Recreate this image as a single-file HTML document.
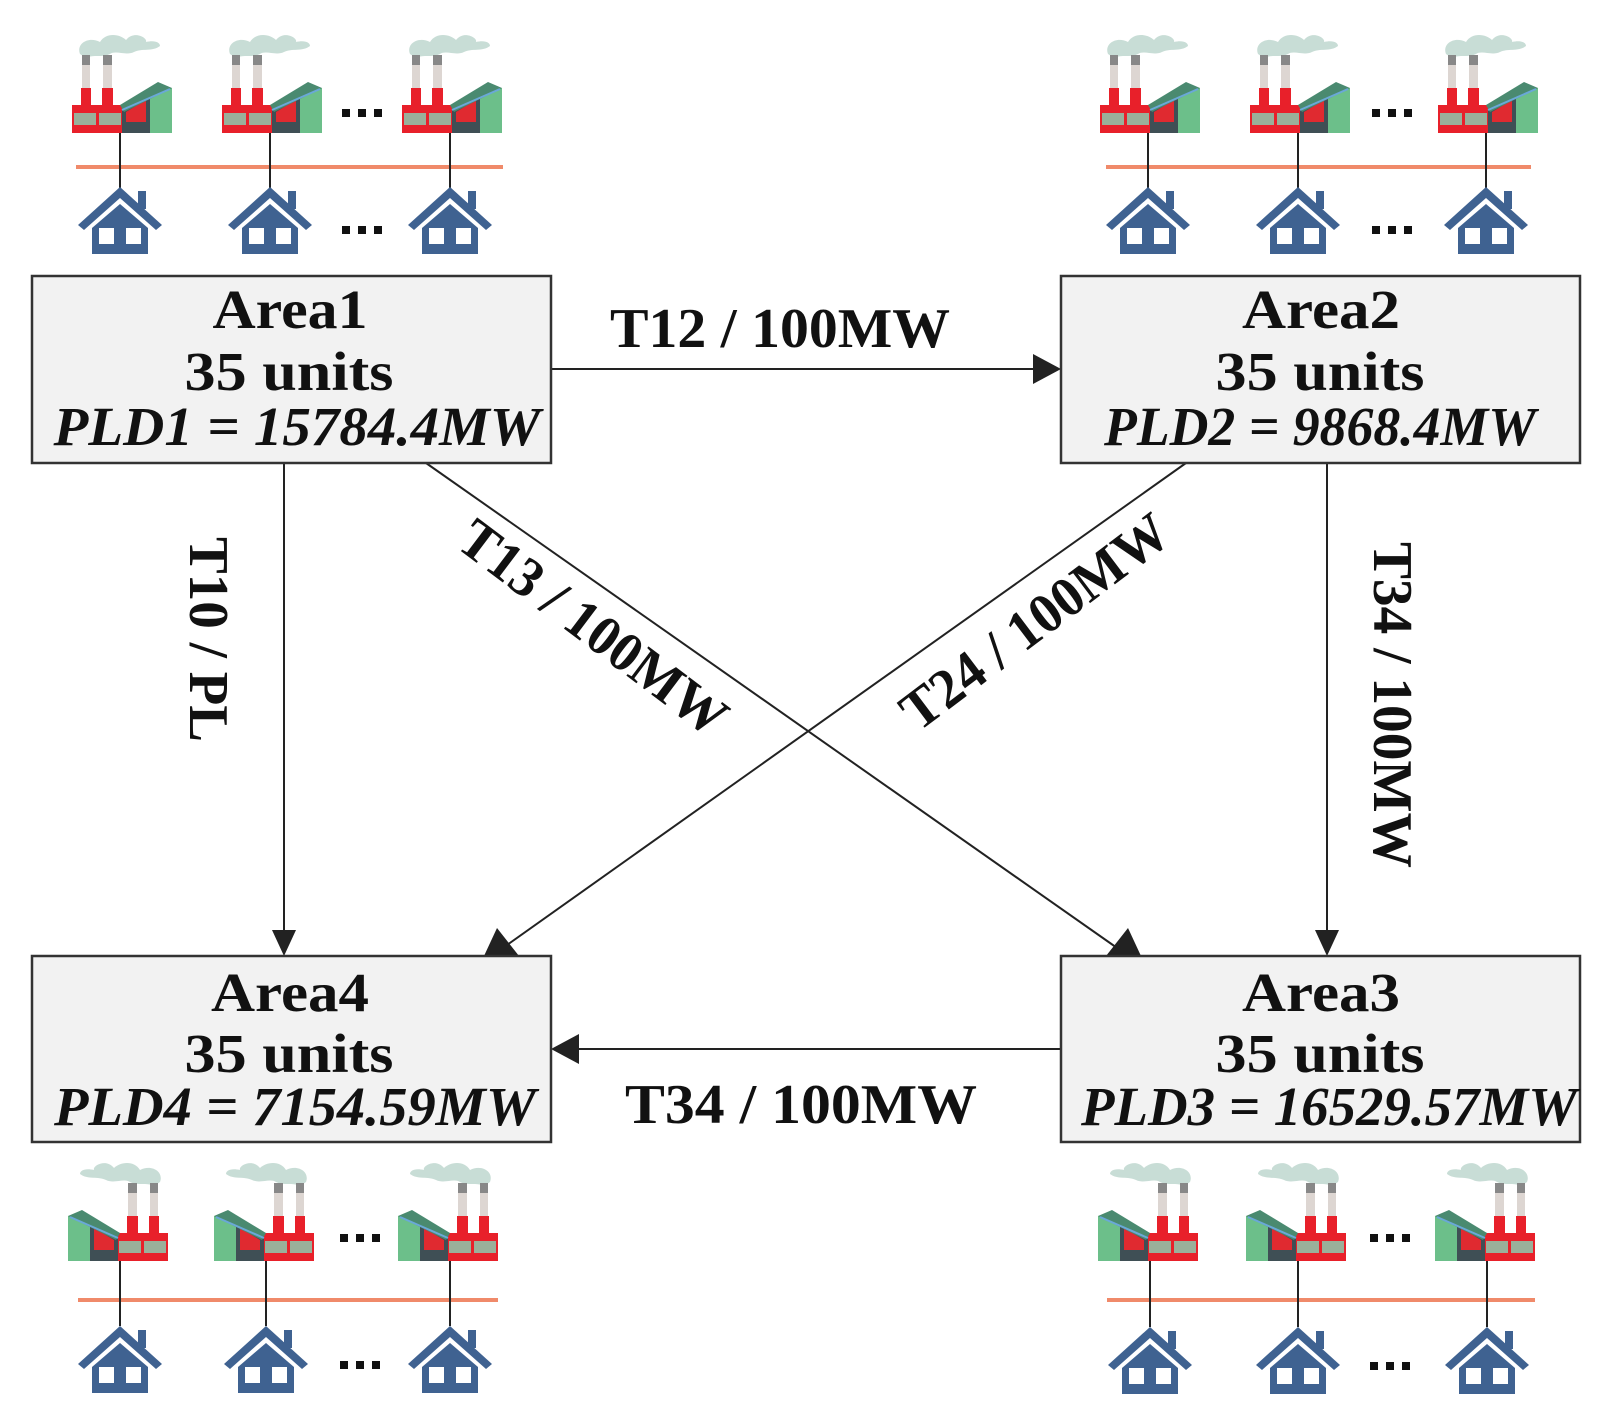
<!DOCTYPE html>
<html><head><meta charset="utf-8"><style>
html,body{margin:0;padding:0;background:#fff}
svg{display:block}
text{font-family:"Liberation Serif",serif;font-weight:bold;fill:#111}
</style></head><body>
<svg width="1601" height="1413" viewBox="0 0 1601 1413" xmlns="http://www.w3.org/2000/svg">
<defs>
<g id="fac">
  <path d="M8 24 C4 14 16 6 28 12 C34 2 48 4 54 10 C62 0 76 8 74 12 C82 10 88 12 88 16 C80 22 70 18 62 22 C54 26 44 20 38 24 C30 28 22 24 14 28 Z" fill="#c8ddd6"/>
  <rect x="10" y="25" width="8" height="10" fill="#888"/>
  <rect x="31" y="25" width="9" height="10" fill="#888"/>
  <rect x="10" y="35" width="8" height="23" fill="#ddd6d2"/>
  <rect x="31" y="35" width="9" height="23" fill="#ddd6d2"/>
  <rect x="9" y="58" width="10" height="18" fill="#e8202a"/>
  <rect x="30" y="58" width="11" height="18" fill="#e8202a"/>
  <rect x="0" y="75" width="52" height="28" fill="#e8202a"/>
  <rect x="2" y="83" width="22" height="12" fill="#9ab09a"/>
  <rect x="27" y="83" width="22" height="12" fill="#9ab09a"/>
  <polygon points="50,78 78,62 78,103 50,103" fill="#3f4f55"/>
  <polygon points="54,82 74,70 74,92 54,92" fill="#e02a30"/>
  <rect x="78" y="58" width="22" height="45" fill="#6cbf8a"/>
  <polygon points="48,75 86,52 100,58 52,82" fill="#4a8a70"/>
  <line x1="50" y1="80" x2="98" y2="59" stroke="#6aa8d8" stroke-width="2"/>
</g>
<g id="house">
  <polygon points="0,0 42,38 36,43 0,11 -36,43 -42,38" fill="#3f6291"/>
  <rect x="18" y="4" width="8" height="18" fill="#3f6291"/>
  <polygon points="0,17 28,41 28,67 -28,67 -28,41" fill="#3f6291"/>
  <rect x="-21" y="41" width="15" height="16" fill="#fff"/>
  <rect x="6" y="41" width="15" height="16" fill="#fff"/>
</g>
<g id="dots"><rect x="0" y="-4" width="8" height="8" fill="#111"/><rect x="16" y="-4" width="8" height="8" fill="#111"/><rect x="32" y="-4" width="8" height="8" fill="#111"/></g>
</defs>

<line x1="76" y1="167" x2="503" y2="167" stroke="#f08a6a" stroke-width="4"/>
<g stroke="#222" stroke-width="2"><line x1="120" y1="125" x2="120" y2="188"/><line x1="270" y1="125" x2="270" y2="188"/><line x1="450" y1="125" x2="450" y2="188"/></g>
<use href="#fac" x="72" y="30"/><use href="#fac" x="222" y="30"/><use href="#fac" x="402" y="30"/>
<use href="#house" x="120" y="187"/><use href="#house" x="270" y="187"/><use href="#house" x="450" y="187"/>
<use href="#dots" x="342" y="113"/><use href="#dots" x="342" y="230"/>

<line x1="1106" y1="167" x2="1531" y2="167" stroke="#f08a6a" stroke-width="4"/>
<g stroke="#222" stroke-width="2"><line x1="1148" y1="125" x2="1148" y2="188"/><line x1="1298" y1="125" x2="1298" y2="188"/><line x1="1486" y1="125" x2="1486" y2="188"/></g>
<use href="#fac" x="1100" y="30"/><use href="#fac" x="1250" y="30"/><use href="#fac" x="1438" y="30"/>
<use href="#house" x="1148" y="187"/><use href="#house" x="1298" y="187"/><use href="#house" x="1486" y="187"/>
<use href="#dots" x="1372" y="113"/><use href="#dots" x="1372" y="230"/>

<line x1="78" y1="1300" x2="498" y2="1300" stroke="#f08a6a" stroke-width="4"/>
<g stroke="#222" stroke-width="2"><line x1="120" y1="1250" x2="120" y2="1326"/><line x1="266" y1="1250" x2="266" y2="1326"/><line x1="450" y1="1250" x2="450" y2="1326"/></g>
<use href="#fac" transform="translate(168,1158) scale(-1,1)"/><use href="#fac" transform="translate(314,1158) scale(-1,1)"/><use href="#fac" transform="translate(498,1158) scale(-1,1)"/>
<use href="#house" x="120" y="1326"/><use href="#house" x="266" y="1326"/><use href="#house" x="450" y="1326"/>
<use href="#dots" x="340" y="1238"/><use href="#dots" x="340" y="1365"/>

<line x1="1107" y1="1300" x2="1535" y2="1300" stroke="#f08a6a" stroke-width="4"/>
<g stroke="#222" stroke-width="2"><line x1="1150" y1="1250" x2="1150" y2="1327"/><line x1="1298" y1="1250" x2="1298" y2="1327"/><line x1="1487" y1="1250" x2="1487" y2="1327"/></g>
<use href="#fac" transform="translate(1198,1158) scale(-1,1)"/><use href="#fac" transform="translate(1346,1158) scale(-1,1)"/><use href="#fac" transform="translate(1535,1158) scale(-1,1)"/>
<use href="#house" x="1150" y="1327"/><use href="#house" x="1298" y="1327"/><use href="#house" x="1487" y="1327"/>
<use href="#dots" x="1370" y="1238"/><use href="#dots" x="1370" y="1366"/>

<g stroke="#222" stroke-width="2" fill="none">
  <line x1="551" y1="369" x2="1035" y2="369"/>
  <line x1="284" y1="463" x2="284" y2="935"/>
  <line x1="1327" y1="463" x2="1327" y2="935"/>
  <line x1="426" y1="463" x2="1120" y2="950"/>
  <line x1="1186" y1="463" x2="500" y2="950"/>
  <line x1="1061" y1="1049" x2="578" y2="1049"/>
</g>
<g fill="#222">
  <polygon points="1061,369 1033,354 1033,384"/>
  <polygon points="284,956 272,930 296,930"/>
  <polygon points="1327,956 1315,930 1339,930"/>
  <polygon points="1141,956 1106,956 1128,928"/>
  <polygon points="484,956 519,956 497,928"/>
  <polygon points="551,1049 579,1034 579,1064"/>
</g>

<g fill="#f2f2f2" stroke="#333" stroke-width="2.5">
  <rect x="32" y="276" width="519" height="187"/>
  <rect x="1061" y="276" width="519" height="187"/>
  <rect x="32" y="956" width="519" height="186"/>
  <rect x="1061" y="956" width="519" height="186"/>
</g>
<g font-size="55" text-anchor="middle">
  <text x="290" y="328" textLength="155" lengthAdjust="spacingAndGlyphs">Area1</text>
  <text x="289" y="390" textLength="209" lengthAdjust="spacingAndGlyphs">35 units</text>
  <text x="297" y="445" font-style="italic" textLength="487" lengthAdjust="spacingAndGlyphs">PLD1 = 15784.4MW</text>
  <text x="1321" y="328" textLength="158" lengthAdjust="spacingAndGlyphs">Area2</text>
  <text x="1320" y="390" textLength="209" lengthAdjust="spacingAndGlyphs">35 units</text>
  <text x="1320" y="445" font-style="italic" textLength="432" lengthAdjust="spacingAndGlyphs">PLD2 = 9868.4MW</text>
  <text x="290" y="1011" textLength="158" lengthAdjust="spacingAndGlyphs">Area4</text>
  <text x="289" y="1072" textLength="209" lengthAdjust="spacingAndGlyphs">35 units</text>
  <text x="295" y="1125" font-style="italic" textLength="482" lengthAdjust="spacingAndGlyphs">PLD4 = 7154.59MW</text>
  <text x="1321" y="1011" textLength="158" lengthAdjust="spacingAndGlyphs">Area3</text>
  <text x="1320" y="1072" textLength="209" lengthAdjust="spacingAndGlyphs">35 units</text>
  <text x="1329" y="1125" font-style="italic" textLength="496" lengthAdjust="spacingAndGlyphs">PLD3 = 16529.57MW</text>
</g>

<g font-size="56">
  <text x="610" y="347" textLength="340" lengthAdjust="spacingAndGlyphs">T12 / 100MW</text>
  <text x="625" y="1123" textLength="352" lengthAdjust="spacingAndGlyphs">T34 / 100MW</text>
  <text transform="translate(190,537) rotate(90)" textLength="205" lengthAdjust="spacingAndGlyphs">T10 / PL</text>
  <text transform="translate(1374,542) rotate(90)" textLength="326" lengthAdjust="spacingAndGlyphs">T34 / 100MW</text>
  <text transform="translate(593,628) rotate(37)" text-anchor="middle" dy="18" textLength="320" lengthAdjust="spacingAndGlyphs">T13 / 100MW</text>
  <text transform="translate(1035,622) rotate(-37)" text-anchor="middle" dy="18" textLength="320" lengthAdjust="spacingAndGlyphs">T24 / 100MW</text>
</g>
</svg>
</body></html>
